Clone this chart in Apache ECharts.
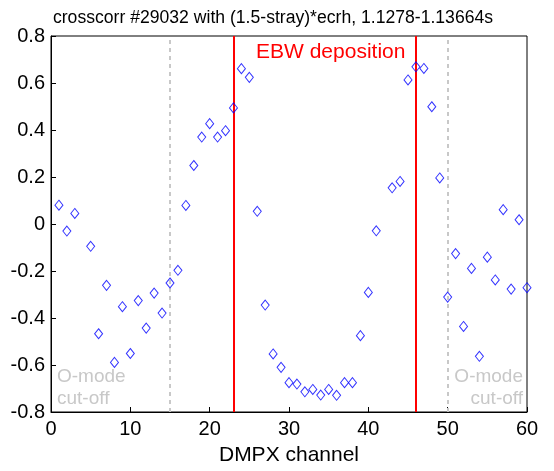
<!DOCTYPE html>
<html><head><meta charset="utf-8">
<script src="https://cdn.jsdelivr.net/npm/echarts@6/dist/echarts.min.js"></script>
<style>html,body{margin:0;padding:0;background:#fff}#c{width:554px;height:471px}</style>
</head><body><div id="c"></div>
<script>
const channels = [1,2,3,5,6,7,8,9,10,11,12,13,14,15,16,17,18,19,20,21,22,23,24,25,26,27,28,29,30,31,32,33,34,35,36,37,38,39,40,41,43,44,45,46,47,48,49,50,51,52,53,54,55,56,57,58,59,60];
const values = [0.08,-0.03,0.045,-0.095,-0.467,-0.261,-0.589,-0.352,-0.551,-0.326,-0.443,-0.294,-0.379,-0.251,-0.197,0.079,0.249,0.37,0.427,0.37,0.397,0.494,0.661,0.624,0.054,-0.345,-0.553,-0.61,-0.675,-0.681,-0.714,-0.704,-0.728,-0.704,-0.729,-0.675,-0.675,-0.475,-0.291,-0.029,0.154,0.181,0.613,0.669,0.662,0.499,0.196,-0.311,-0.126,-0.436,-0.189,-0.563,-0.141,-0.238,0.061,-0.277,0.018,-0.271];
const ebwBounds = [23, 46];
const cutoffBounds = [15, 50];
const xTicks = [0,10,20,30,40,50,60];
const yTicks = [-0.8,-0.6,-0.4,-0.2,0,0.2,0.4,0.6,0.8];

const chart = echarts.init(document.getElementById('c'), null, {renderer:'canvas'});
const font = 'Liberation Sans, Arial, sans-serif';
const pts = channels.map((c,i)=>[c, values[i]]);
chart.setOption({
  animation:false,
  title:{text:'crosscorr #29032 with (1.5-stray)*ecrh, 1.1278-1.13664s', left:268, textAlign:'center', top:4,
    textStyle:{fontFamily:font, fontSize:17.6, fontWeight:'normal', color:'#000'}},
  grid:{left:51, right:27, top:36, bottom:59, show:true, borderColor:'#000', borderWidth:1},
  xAxis:{type:'value', min:0, max:60, interval:10, name:'DMPX channel', nameLocation:'middle', nameGap:33,
    nameTextStyle:{fontFamily:font, fontSize:21, color:'#000'},
    axisLine:{onZero:false, lineStyle:{color:'#000'}}, axisTick:{inside:true, length:5, lineStyle:{color:'#000'}},
    axisLabel:{fontFamily:font, fontSize:20, color:'#000', margin:7}, splitLine:{show:false}},
  yAxis:{type:'value', min:-0.8, max:0.8, interval:0.2,
    axisLine:{show:true, onZero:false, lineStyle:{color:'#000'}}, axisTick:{show:true, inside:true, length:5, lineStyle:{color:'#000'}},
    axisLabel:{fontFamily:font, fontSize:20, color:'#000', margin:6, formatter:v=>String(Math.round(v*10)/10)}, splitLine:{show:false}},
  series:[
    {type:'scatter', data:pts, symbol:'diamond', symbolSize:[8,10],
      itemStyle:{color:'rgba(0,0,0,0)', borderColor:'#0000ff', borderWidth:1}, z:5,
      markLine:{silent:true, symbol:'none', label:{show:false},
        data:[
          {xAxis:ebwBounds[0], lineStyle:{color:'#ff0000', width:2, type:'solid'}},
          {xAxis:ebwBounds[1], lineStyle:{color:'#ff0000', width:2, type:'solid'}},
          {xAxis:cutoffBounds[0], lineStyle:{color:'#c8c8c8', width:2, type:[4,4]}},
          {xAxis:cutoffBounds[1], lineStyle:{color:'#c8c8c8', width:2, type:[4,4]}}
        ]}}
  ],
  graphic:[
    {type:'text', x:256, y:52, style:{text:'EBW deposition', fontFamily:font, fontSize:21, fill:'#ff0000', verticalAlign:'middle'}},
    {type:'text', x:57, y:366, style:{text:'O-mode\ncut-off', fontFamily:font, fontSize:19, lineHeight:22, fill:'#c8c8c8'}},
    {type:'text', x:523, y:366, style:{text:'O-mode\ncut-off', fontFamily:font, fontSize:19, lineHeight:22, fill:'#c8c8c8', align:'right'}}
  ]
});
</script></body></html>
